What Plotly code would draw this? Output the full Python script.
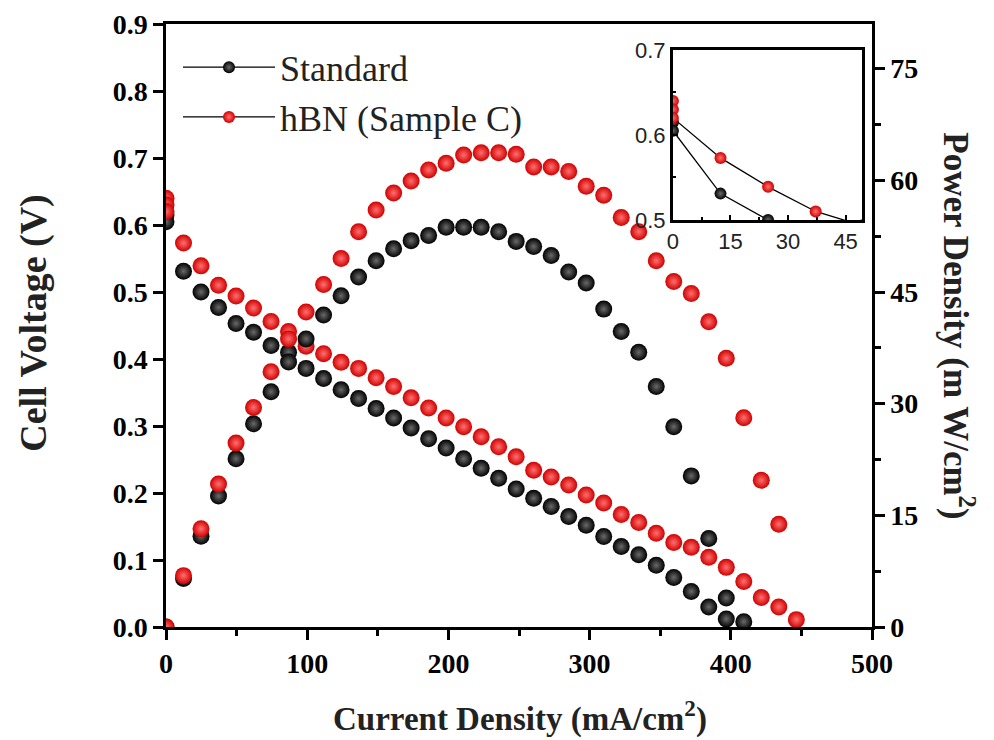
import plotly.graph_objects as go

# ---------------- data ----------------
current = [0, 12.4, 24.8, 37.2, 49.6, 62.0, 74.4, 86.8, 99.2, 111.6, 124.0, 136.4,
           148.8, 161.2, 173.6, 186.0, 198.4, 210.8, 223.2, 235.6, 248.0, 260.4,
           272.8, 285.2, 297.6, 310.0, 322.4, 334.8, 347.2, 359.6, 372.0, 384.4,
           396.8, 409.2, 421.6, 434.0, 446.4]

std_voltage = [0.605, 0.531, 0.500, 0.477, 0.453, 0.440, 0.420, 0.410, 0.386, 0.371,
               0.354, 0.341, 0.326, 0.312, 0.297, 0.281, 0.267, 0.251, 0.237, 0.222,
               0.206, 0.192, 0.180, 0.165, 0.152, 0.135, 0.120, 0.108, 0.092, 0.074,
               0.053, 0.030, 0.012, 0.008]
std_power = [0.0, 6.5, 12.2, 17.6, 22.6, 27.3, 31.6, 35.6, 38.7, 41.9, 44.5, 47.0,
             49.2, 50.8, 51.9, 52.6, 53.7, 53.7, 53.7, 53.1, 51.8, 51.1, 49.9, 47.7,
             46.2, 42.7, 39.7, 36.9, 32.3, 26.9, 20.3, 11.9, 3.9]

hbn_voltage = [0.620, 0.573, 0.539, 0.510, 0.494, 0.476, 0.456, 0.441, 0.419, 0.408,
               0.395, 0.386, 0.372, 0.359, 0.342, 0.327, 0.312, 0.299, 0.284, 0.269,
               0.254, 0.234, 0.224, 0.212, 0.197, 0.185, 0.168, 0.156, 0.140, 0.126,
               0.119, 0.104, 0.089, 0.068, 0.044, 0.030, 0.011]
hbn_power = [0.0, 6.9, 13.2, 19.2, 24.7, 29.5, 34.3, 38.7, 42.3, 46.0, 49.5, 53.1,
             56.0, 58.3, 59.9, 61.4, 62.3, 63.4, 63.7, 63.7, 63.5, 61.8, 61.8, 61.2,
             59.2, 58.0, 55.0, 53.1, 49.2, 46.4, 44.8, 41.0, 36.1, 28.1, 19.7, 13.8]

# extra open-circuit readings recorded at zero current
std_ocv_extra = [0.615]
hbn_ocv_extra = [0.640, 0.630]

series_names = ["Standard", "hBN (Sample C)"]

x_ticks = [0, 100, 200, 300, 400, 500]
v_ticks = [0.0, 0.1, 0.2, 0.3, 0.4, 0.5, 0.6, 0.7, 0.8, 0.9]
p_ticks = [0, 15, 30, 45, 60, 75]
inset_x_ticks = [0, 15, 30, 45]
inset_v_ticks = [0.5, 0.6, 0.7]

# ---------------- styling ----------------
RED = dict(color="#d00000", gradient=dict(type="radial", color="#ff7070"))
BLK = dict(color="#000000", gradient=dict(type="radial", color="#6a6a6a"))
SERIF = "Liberation Serif, Times New Roman, serif"
SANS = "Liberation Sans, Arial, sans-serif"

fig = go.Figure()

std_v_x = [0] * len(std_ocv_extra) + current[:len(std_voltage)]
std_v_y = std_ocv_extra + std_voltage
hbn_v_x = [0] * len(hbn_ocv_extra) + current[:len(hbn_voltage)]
hbn_v_y = hbn_ocv_extra + hbn_voltage

MS = 17
# power curves (right axis)
fig.add_trace(go.Scatter(x=current[:len(std_power)], y=std_power, mode="markers",
                         yaxis="y2", showlegend=False,
                         marker=dict(size=MS, line=dict(width=0), **BLK)))
fig.add_trace(go.Scatter(x=current[:len(hbn_power)], y=hbn_power, mode="markers",
                         yaxis="y2", showlegend=False,
                         marker=dict(size=MS, line=dict(width=0), **RED)))
# polarization curves (left axis)
fig.add_trace(go.Scatter(x=std_v_x, y=std_v_y, mode="markers", showlegend=False,
                         marker=dict(size=MS, line=dict(width=0), **BLK)))
fig.add_trace(go.Scatter(x=hbn_v_x, y=hbn_v_y, mode="markers", showlegend=False,
                         marker=dict(size=MS, line=dict(width=0), **RED)))

# inset (also provides the legend entries)
fig.add_trace(go.Scatter(x=std_v_x, y=std_v_y, mode="lines+markers", name=series_names[0],
                         xaxis="x3", yaxis="y3", line=dict(color="#000", width=1.3),
                         marker=dict(size=12, line=dict(width=0), **BLK)))
fig.add_trace(go.Scatter(x=hbn_v_x, y=hbn_v_y, mode="lines+markers", name=series_names[1],
                         xaxis="x3", yaxis="y3", line=dict(color="#000", width=1.3),
                         marker=dict(size=12, line=dict(width=0), **RED)))

axis_common = dict(showline=True, linecolor="black", linewidth=2.5, ticks="outside",
                   tickwidth=2.5, ticklen=10, tickcolor="black", showgrid=False,
                   zeroline=False, automargin=False,
                   tickfont=dict(family=SERIF, size=28, color="black", weight="bold"))

inset_common = dict(showline=True, mirror=True, linecolor="black", linewidth=3,
                    ticks="inside", ticklen=5, tickwidth=2, tickcolor="black",
                    showgrid=False, zeroline=False, automargin=False,
                    tickfont=dict(family=SANS, size=22, color="#222"))

fig.update_layout(
    width=986, height=732,
    paper_bgcolor="white", plot_bgcolor="white",
    margin=dict(l=158, r=122, t=16, b=113, autoexpand=False),
    xaxis=dict(range=[0, 500], tickvals=x_ticks, mirror=True,
               minor=dict(dtick=50, ticklen=6, tickwidth=2.5, ticks="outside", tickcolor="black"),
               **axis_common),
    yaxis=dict(range=[0, 0.9], tickvals=v_ticks, tickformat=".1f", **axis_common),
    yaxis2=dict(range=[0, 81], tickvals=p_ticks, overlaying="y", side="right",
                minor=dict(dtick=7.5, ticklen=6, tickwidth=2.5, ticks="outside", tickcolor="black"),
                **axis_common),
    xaxis3=dict(domain=[0.718, 0.986], anchor="y3", range=[0, 49.3], tickvals=inset_x_ticks,
                minor=dict(dtick=7.5, ticklen=3, ticks="inside", tickcolor="black"),
                **inset_common),
    yaxis3=dict(domain=[0.675, 0.957], anchor="x3", range=[0.5, 0.7], tickvals=inset_v_ticks,
                tickformat=".1f",
                minor=dict(dtick=0.05, ticklen=3, ticks="inside", tickcolor="black"),
                **inset_common),
    legend=dict(x=0.017, y=0.978, xanchor="left", yanchor="top",
                bgcolor="rgba(0,0,0,0)", borderwidth=0, tracegroupgap=0,
                itemwidth=92,
                font=dict(family=SERIF, size=36, color="#222")),
    annotations=[
        dict(text="<b>Cell Voltage (V)</b>", xref="paper", yref="paper",
             x=-0.188, y=0.505, textangle=-90, showarrow=False,
             xanchor="center", yanchor="middle",
             font=dict(family=SERIF, size=38, color="#222")),
        dict(text="<b>Power Density (m W/cm<sup>2</sup>)</b>", xref="paper", yref="paper",
             x=1.122, y=0.50, textangle=90, showarrow=False,
             xanchor="center", yanchor="middle",
             font=dict(family=SERIF, size=35, color="#222")),
        dict(text="<b>Current Density (mA/cm<sup>2</sup>)</b>", xref="paper", yref="paper",
             x=0.501, y=-0.148, showarrow=False, xanchor="center", yanchor="middle",
             font=dict(family=SERIF, size=33, color="#222")),
    ],
)

fig.write_html("out.html")
